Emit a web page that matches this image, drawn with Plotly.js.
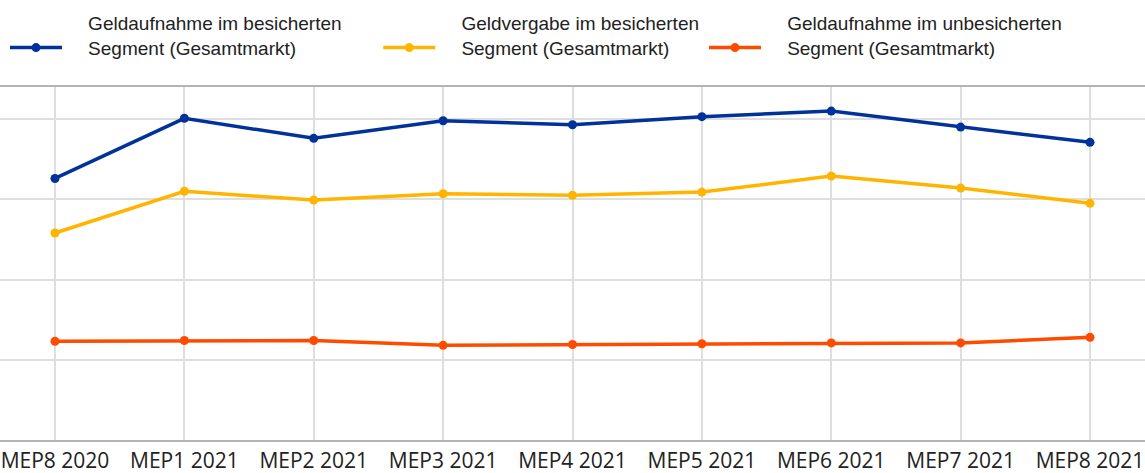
<!DOCTYPE html>
<html>
<head>
<meta charset="utf-8">
<script src="https://cdn.plot.ly/plotly-3.0.1.min.js"></script>
<style>
  html, body { margin: 0; padding: 0; background: #ffffff; }
  #chart { width: 1145px; height: 473px; }
</style>
</head>
<body>
<div id="chart"></div>
<script>
const categories = ["MEP8 2020", "MEP1 2021", "MEP2 2021", "MEP3 2021", "MEP4 2021", "MEP5 2021", "MEP6 2021", "MEP7 2021", "MEP8 2021"];

const seriesNames = [
  ["Geldaufnahme im besicherten", "Segment (Gesamtmarkt)"],
  ["Geldvergabe im besicherten", "Segment (Gesamtmarkt)"],
  ["Geldaufnahme im unbesicherten", "Segment (Gesamtmarkt)"]
];

const borrowingSecured   = [326, 401, 376, 398, 393, 403, 410, 390, 371];
const lendingSecured     = [258, 310, 299, 307, 305, 309, 329, 314, 295];
const borrowingUnsecured = [123, 124, 124, 118, 119, 120, 121, 121, 128];

const colors = ["#003299", "#FFB400", "#FF4B00"];

const seriesValues = [borrowingSecured, lendingSecured, borrowingUnsecured];

// legend label spacing (text offset from symbol, gap to next entry)
const NB = "\u00A0";
const lead = NB.repeat(4);
const trailing = [6, 0, 0];
function legendLabel(lines, i) {
  return lead + lines[0] + NB.repeat(trailing[i]) + "<br>" + lead + lines[1];
}

const traces = seriesValues.map((vals, i) => ({
  type: "scatter",
  mode: "lines+markers",
  x: categories,
  y: vals,
  name: legendLabel(seriesNames[i], i),
  line: { color: colors[i], width: 3.5 },
  marker: { color: colors[i], size: 9 },
  hoverinfo: "x+y"
}));

const layout = {
  width: 1145,
  height: 473,
  margin: { l: 0, r: 0, t: 87, b: 33, pad: 0 },
  paper_bgcolor: "#ffffff",
  plot_bgcolor: "#ffffff",
  showlegend: true,
  legend: {
    orientation: "h",
    x: 5 / 1145, xanchor: "left",
    y: 1.235, yanchor: "top",
    font: { family: "Liberation Sans, Arial, sans-serif", size: 19, color: "#222222" },
    itemwidth: 52,
    valign: "bottom",
    traceorder: "normal",
    bgcolor: "rgba(0,0,0,0)"
  },
  xaxis: {
    type: "category",
    range: [-0.425, 8.425],
    showgrid: true,
    gridcolor: "#dedede",
    gridwidth: 2,
    showline: true,
    linecolor: "#b4b4b4",
    linewidth: 2,
    mirror: true,
    ticks: "",
    ticklabelstandoff: 1,
    tickfont: { family: "Open Sans, sans-serif", size: 21, color: "#222222" },
    fixedrange: true
  },
  yaxis: {
    range: [0, 440],
    dtick: 100,
    tick0: 0,
    showgrid: true,
    gridcolor: "#dedede",
    gridwidth: 2,
    zeroline: false,
    showticklabels: false,
    ticks: "",
    fixedrange: true
  }
};

Plotly.newPlot("chart", traces, layout, { displayModeBar: false, staticPlot: true });
</script>
</body>
</html>
